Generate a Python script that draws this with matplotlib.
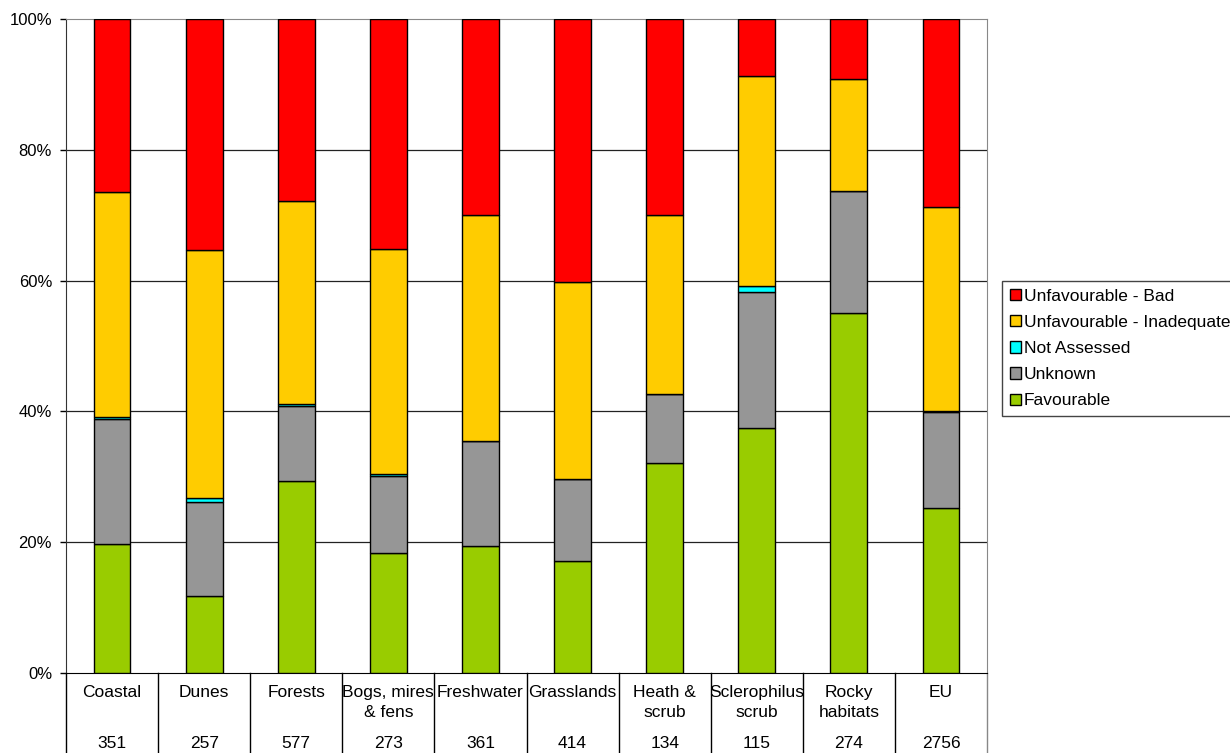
import numpy as np
import matplotlib
matplotlib.use("Agg")
import matplotlib.pyplot as plt
from matplotlib.patches import Patch

plt.rcParams['font.family'] = ['Liberation Sans', 'DejaVu Sans']

categories = ["Coastal", "Dunes", "Forests", "Bogs, mires\n& fens", "Freshwater",
              "Grasslands", "Heath &\nscrub", "Sclerophilus\nscrub", "Rocky\nhabitats", "EU"]
counts = [351, 257, 577, 273, 361, 414, 134, 115, 274, 2756]

# percentages per stack segment (bottom to top)
favourable = [19.7, 11.8, 29.4, 18.3, 19.4, 17.1, 32.1, 37.4, 55.1, 25.2]
unknown = [19.1, 14.4, 11.5, 11.8, 16.1, 12.6, 10.5, 20.9, 18.6, 14.7]
not_assessed = [0.3, 0.6, 0.2, 0.4, 0.0, 0.0, 0.0, 0.9, 0.0, 0.2]
inadequate = [34.4, 37.9, 31.1, 34.3, 34.6, 30.1, 27.5, 32.1, 17.1, 31.2]
bad = [26.5, 35.3, 27.8, 35.2, 29.9, 40.2, 29.9, 8.7, 9.2, 28.7]

series = [
    ("Favourable", favourable, "#99CC00"),
    ("Unknown", unknown, "#969696"),
    ("Not Assessed", not_assessed, "#00FFFF"),
    ("Unfavourable - Inadequate", inadequate, "#FFCC00"),
    ("Unfavourable - Bad", bad, "#FF0000"),
]

fig = plt.figure(figsize=(12.3, 7.53), dpi=100)
ax = fig.add_axes([66 / 1230, 80 / 753, 921 / 1230, 654 / 753])

x = np.arange(len(categories))
bottom = np.zeros(len(categories))
handles = []
for name, vals, color in series:
    vals = np.array(vals)
    ax.bar(x, vals, 0.4, bottom=bottom, color=color, edgecolor="black",
           linewidth=1.0, zorder=3)
    bottom += vals
    handles.append(Patch(facecolor=color, edgecolor="black", linewidth=1.0, label=name))

ax.set_xlim(-0.5, len(categories) - 0.5)
ax.set_ylim(0, 100)
ax.set_yticks([0, 20, 40, 60, 80, 100])
ax.set_yticklabels(["0%", "20%", "40%", "60%", "80%", "100%"], fontsize=12)
ax.tick_params(axis="y", direction="out", length=4, width=1, pad=6)
ax.set_xticks([])
for yv in [20, 40, 60, 80]:
    ax.axhline(yv, color="#222222", linewidth=0.9, zorder=1)

ax.spines["left"].set_color("#333333")
ax.spines["bottom"].set_color("black")
ax.spines["top"].set_color("#888888")
ax.spines["right"].set_color("#888888")

# table under the chart
trans = ax.get_xaxis_transform()
for i, (cat, n) in enumerate(zip(categories, counts)):
    ax.text(i, -12 / 654, cat, transform=trans, ha="center", va="top",
            fontsize=12.5, linespacing=1.42, clip_on=False)
    ax.text(i, -70 / 654, str(n), transform=trans, ha="center", va="center",
            fontsize=12.5, clip_on=False)
for b in np.arange(-0.5, len(categories), 1.0):
    color = "#888888" if b == len(categories) - 0.5 else "black"
    ax.plot([b, b], [0, -90 / 654], transform=trans, color=color,
            linewidth=1, clip_on=False)

leg = fig.legend(handles=handles[::-1], loc="upper left",
                 bbox_to_anchor=(1002 / 1230, 1 - 281 / 753), fontsize=12.5,
                 frameon=True, fancybox=False, framealpha=1, edgecolor="#444444",
                 handlelength=0.62, handleheight=0.62, handletextpad=0.2,
                 labelspacing=0.64, borderpad=0.45, borderaxespad=0)
leg.get_frame().set_linewidth(1)

fig.savefig("out.png", dpi=100)
